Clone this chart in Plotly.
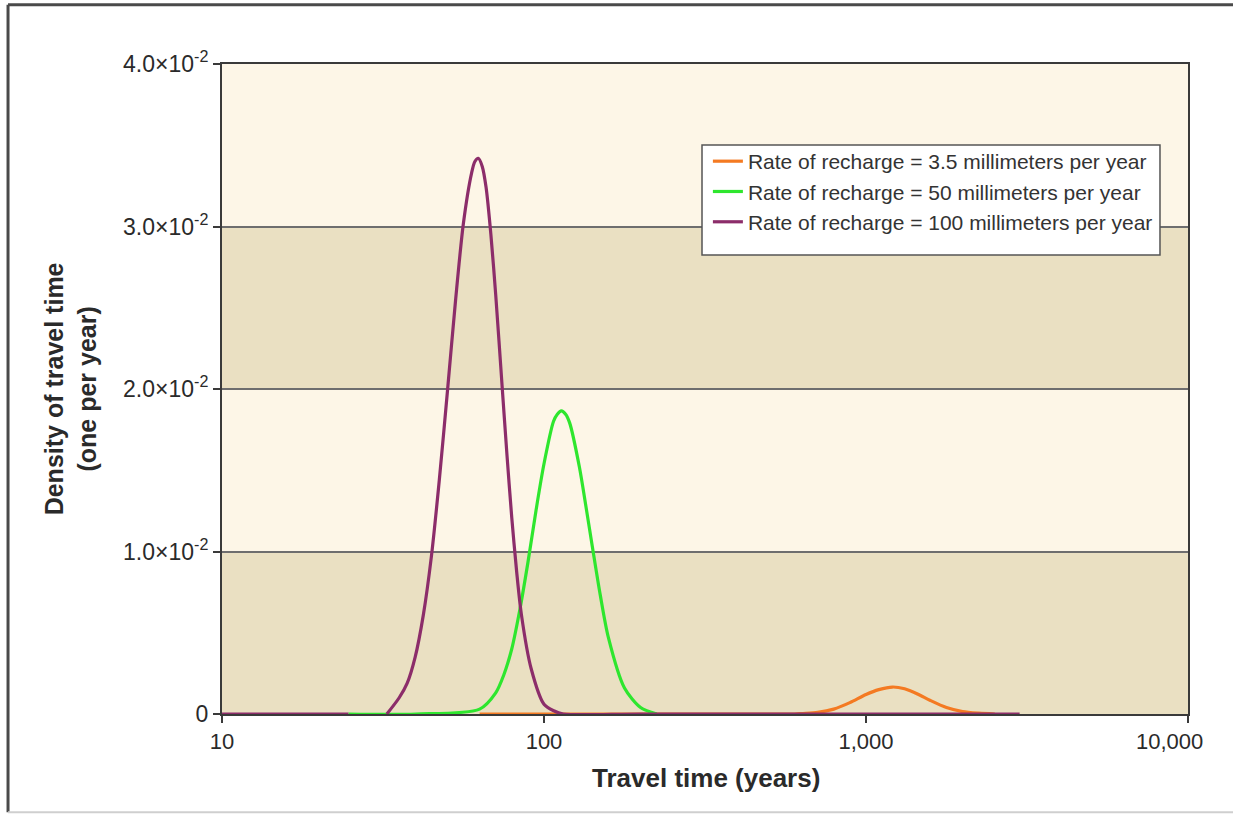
import plotly.graph_objects as go

# Travel time (years) and density of travel time (one per year) for each recharge rate
orange_t = [63.1, 100, 300, 600, 631, 708, 794, 891, 1000, 1096, 1208, 1318, 1445, 1585, 1778, 1995, 2239, 2512]
orange_d = [0, 0, 0, 0, 0.00003, 0.0001, 0.0003, 0.0007, 0.0012, 0.0015, 0.00166, 0.00155, 0.00123, 0.00083, 0.0004, 0.00015, 0.00005, 0]

green_t = [24.7, 40, 63.1, 70.8, 75.0, 79.4, 84.1, 89.1, 94.4, 100, 107, 110.0, 113.2, 116.7, 120.2, 128.8,
           134.9, 141.3, 149.6, 158.5, 177.8, 199.5, 224]
green_d = [0, 0, 0.0003, 0.0013, 0.0024, 0.0040, 0.0064, 0.0093, 0.0125, 0.0154, 0.0180, 0.01845, 0.01865, 0.01845,
           0.0179, 0.0152, 0.0128, 0.0103, 0.0073, 0.0047, 0.0016, 0.0004, 0]

purple_t = [10, 24.7, None, 32.5, 35.5, 37.6, 39.8, 42.2, 44.7, 47.3, 50.1, 53.1, 56.2, 59.6, 61.0, 62.5, 64.3,
            66.1, 68.4, 70.8, 74.1, 76.7, 79.4, 82.2, 85.1, 91.2, 100, 107.2, 114.8, 200, 1000, 3000]
purple_d = [0, 0, None, 0, 0.0010, 0.0019, 0.0035, 0.0061, 0.0097, 0.0144, 0.0198, 0.0254, 0.0302, 0.0333, 0.0340,
            0.0342, 0.0337, 0.0324, 0.0295, 0.0258, 0.0202, 0.0160, 0.0121, 0.0088, 0.0061, 0.0028, 0.0006,
            0.0002, 0, 0, 0, 0]

series_names = [
    "Rate of recharge = 3.5 millimeters per year",
    "Rate of recharge = 50 millimeters per year",
    "Rate of recharge = 100 millimeters per year",
]
series_colors = ["#F47A22", "#2EE62E", "#8C2D6A"]

x_tickvals = [10, 100, 1000, 10000]
x_ticktext = ["10", "100", "1,000", "10,000"]
y_tickvals = [0, 0.01, 0.02, 0.03, 0.04]
y_ticktext = ["0", "1.0×10<sup>-2</sup>", "2.0×10<sup>-2</sup>", "3.0×10<sup>-2</sup>", "4.0×10<sup>-2</sup>"]

FONT = "Liberation Sans, Arial, sans-serif"
TEXT = "#2a2a2a"

fig = go.Figure()
for t, d, name, color in zip([orange_t, green_t, purple_t], [orange_d, green_d, purple_d],
                             series_names, series_colors):
    fig.add_trace(go.Scatter(
        x=t, y=d, name=name, mode="lines",
        line=dict(color=color, width=3.2, shape="spline", smoothing=0.8),
        connectgaps=False,
    ))

# alternating horizontal bands behind the data
shapes = []
for y0, y1 in [(0, 0.01), (0.02, 0.03)]:
    shapes.append(dict(type="rect", xref="paper", yref="y", x0=0, x1=1, y0=y0, y1=y1,
                       fillcolor="#EAE0C2", line=dict(width=0), layer="below"))

# white box behind the legend entries
shapes.append(dict(type="rect", xref="paper", yref="paper", x0=0.4969, x1=0.971, y0=0.7062, y1=0.8754,
                   fillcolor="white", line=dict(color="#555555", width=1.5), layer="above"))

# outer frame around the figure
shapes += [
    dict(type="line", xref="paper", yref="paper", x0=-0.2215, x1=-0.2215, y0=-0.151, y1=1.091,
         line=dict(color="#4a4a4a", width=3)),
    dict(type="line", xref="paper", yref="paper", x0=-0.2215, x1=1.05, y0=1.091, y1=1.091,
         line=dict(color="#4a4a4a", width=3)),
    dict(type="line", xref="paper", yref="paper", x0=-0.2215, x1=1.05, y0=-0.151, y1=-0.151,
         line=dict(color="#cfcfcf", width=2)),
]

# the last x label sits slightly inside the right edge of the plot
last_label = dict(text=x_ticktext[-1], xref="x", yref="paper", x=4, y=0, xshift=-19, yshift=-27,
                  xanchor="center", yanchor="middle", showarrow=False,
                  font=dict(family=FONT, size=22, color=TEXT))

fig.update_layout(
    width=1233, height=814,
    margin=dict(l=222, r=45, t=64, b=100),
    paper_bgcolor="white",
    plot_bgcolor="#FDF6E7",
    font=dict(family=FONT, size=21, color=TEXT),
    shapes=shapes,
    showlegend=True,
    legend=dict(
        x=0.503, y=0.8815, xanchor="left", yanchor="top",
        bgcolor="rgba(0,0,0,0)", borderwidth=0,
        font=dict(family=FONT, size=21, color="#333333"),
        tracegroupgap=0, itemwidth=30,
    ),
    annotations=[
        dict(text="<b>Travel time (years)</b>", xref="paper", yref="paper",
             x=0.501, y=-0.098, xanchor="center", yanchor="middle", showarrow=False,
             font=dict(family=FONT, size=26, color=TEXT)),
        dict(text="<b>Density of travel time<br>(one per year)</b>", xref="paper", yref="paper",
             x=-0.157, y=0.5, xanchor="center", yanchor="middle", showarrow=False, textangle=-90,
             font=dict(family=FONT, size=25, color=TEXT)),
        last_label,
    ],
)

fig.update_xaxes(
    type="log", range=[1, 4],
    tickvals=x_tickvals, ticktext=x_ticktext[:-1] + [""],
    showgrid=False, zeroline=False,
    showline=True, linecolor="#3a3a3a", linewidth=2, mirror=True,
    ticks="outside", ticklen=7, tickwidth=1.5, tickcolor="#3a3a3a",
    tickfont=dict(family=FONT, size=22, color=TEXT),
)
fig.update_yaxes(
    range=[0, 0.04],
    tickvals=y_tickvals, ticktext=y_ticktext,
    showgrid=True, gridcolor="#6e6e6e", gridwidth=1.5, zeroline=False,
    showline=True, linecolor="#3a3a3a", linewidth=2, mirror=True,
    ticks="outside", ticklen=7, tickwidth=1.5, tickcolor="#3a3a3a",
    tickfont=dict(family=FONT, size=23, color=TEXT),
)

fig.write_html("out.html")
